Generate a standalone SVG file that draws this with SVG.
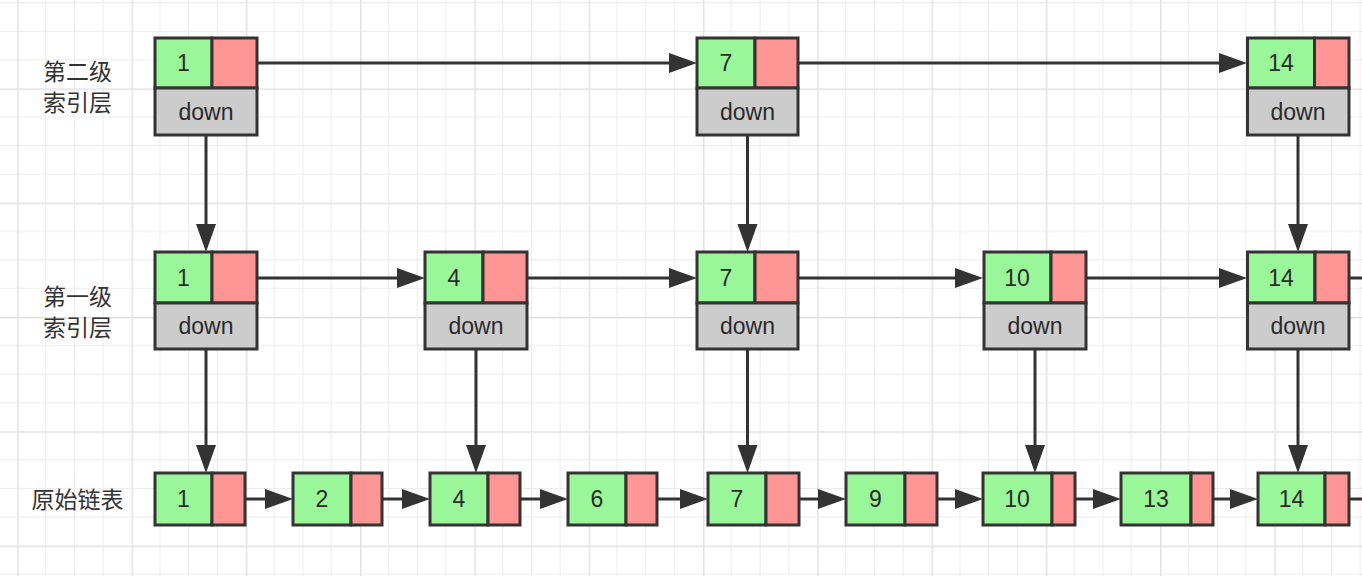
<svg xmlns="http://www.w3.org/2000/svg" width="1362" height="576" viewBox="0 0 1362 576">
<style>
.g{fill:#99f799;stroke:#333;stroke-width:3}
.r{fill:#fd9595;stroke:#333;stroke-width:3}
.d{fill:#cccccc;stroke:#333;stroke-width:3}
.t{font-family:"Liberation Sans",Arial,sans-serif;font-size:23px;fill:#2a2a2a;text-anchor:middle}
.lb{font-family:"Noto Sans CJK SC","Noto Sans",sans-serif;font-size:23px;fill:#333;text-anchor:middle}
.c line{stroke:#333;stroke-width:3}
</style>
<defs>
<pattern id="grid" patternUnits="userSpaceOnUse" x="131.5" y="202.7" width="114.2857" height="114.2857">
<rect x="28.07" y="0" width="1" height="114.2857" fill="#ebebeb"/>
<rect x="56.64" y="0" width="1" height="114.2857" fill="#ebebeb"/>
<rect x="85.21" y="0" width="1" height="114.2857" fill="#ebebeb"/>
<rect x="0" y="28.07" width="114.2857" height="1" fill="#ebebeb"/>
<rect x="0" y="56.64" width="114.2857" height="1" fill="#ebebeb"/>
<rect x="0" y="85.21" width="114.2857" height="1" fill="#ebebeb"/>
<rect x="0" y="0" width="1.5" height="114.2857" fill="#e2e2e2"/>
<rect x="0" y="0" width="114.2857" height="1.5" fill="#e2e2e2"/>
</pattern>
<marker id="ah" markerUnits="userSpaceOnUse" markerWidth="30" markerHeight="22" refX="8" refY="10" orient="auto">
<path d="M0,0 L28,10 L0,20 Z" fill="#333"/>
</marker>
</defs>
<rect x="0" y="0" width="1362" height="576" fill="#ffffff"/>
<rect x="0" y="0" width="1362" height="576" fill="url(#grid)"/>

<g id="labels">
<text class="lb" x="77.5" y="80">第二级</text>
<text class="lb" x="77.5" y="111">索引层</text>
<text class="lb" x="77.5" y="305">第一级</text>
<text class="lb" x="77.5" y="336">索引层</text>
<text class="lb" x="77.5" y="508">原始链表</text>
</g>

<g id="connectors" class="c">
<line x1="257" y1="63" x2="677" y2="63" marker-end="url(#ah)"/>
<line x1="798" y1="63" x2="1227" y2="63" marker-end="url(#ah)"/>
<line x1="257" y1="278" x2="405" y2="278" marker-end="url(#ah)"/>
<line x1="527" y1="278" x2="677" y2="278" marker-end="url(#ah)"/>
<line x1="798" y1="278" x2="963" y2="278" marker-end="url(#ah)"/>
<line x1="1086" y1="278" x2="1227" y2="278" marker-end="url(#ah)"/>
<line x1="1349" y1="278" x2="1362" y2="278"/>
<line x1="206" y1="135" x2="206" y2="232" marker-end="url(#ah)"/>
<line x1="747.5" y1="135" x2="747.5" y2="232" marker-end="url(#ah)"/>
<line x1="1298" y1="135" x2="1298" y2="232" marker-end="url(#ah)"/>
<line x1="206" y1="349" x2="206" y2="453" marker-end="url(#ah)"/>
<line x1="476" y1="349" x2="476" y2="453" marker-end="url(#ah)"/>
<line x1="747.5" y1="349" x2="747.5" y2="453" marker-end="url(#ah)"/>
<line x1="1035" y1="349" x2="1035" y2="453" marker-end="url(#ah)"/>
<line x1="1298" y1="349" x2="1298" y2="453" marker-end="url(#ah)"/>
<line x1="245" y1="499" x2="273" y2="499" marker-end="url(#ah)"/>
<line x1="382" y1="499" x2="410" y2="499" marker-end="url(#ah)"/>
<line x1="520" y1="499" x2="548" y2="499" marker-end="url(#ah)"/>
<line x1="657" y1="499" x2="688" y2="499" marker-end="url(#ah)"/>
<line x1="799" y1="499" x2="826" y2="499" marker-end="url(#ah)"/>
<line x1="937" y1="499" x2="963" y2="499" marker-end="url(#ah)"/>
<line x1="1075" y1="499" x2="1101" y2="499" marker-end="url(#ah)"/>
<line x1="1213" y1="499" x2="1238" y2="499" marker-end="url(#ah)"/>
<line x1="1349" y1="499" x2="1362" y2="499"/>
</g>

<g id="l2-n1">
<rect class="g" x="155" y="38" width="57" height="50"/><rect class="r" x="212" y="38" width="45" height="50"/>
<rect class="d" x="155" y="88" width="102" height="47"/>
<text class="t" x="183.5" y="71">1</text><text class="t" x="206" y="119.5">down</text>
</g>
<g id="l2-n7">
<rect class="g" x="697" y="38" width="58" height="50"/><rect class="r" x="755" y="38" width="43" height="50"/>
<rect class="d" x="697" y="88" width="101" height="47"/>
<text class="t" x="726" y="71">7</text><text class="t" x="747.5" y="119.5">down</text>
</g>
<g id="l2-n14">
<rect class="g" x="1247.5" y="38" width="67" height="50"/><rect class="r" x="1314.5" y="38" width="34.5" height="50"/>
<rect class="d" x="1247.5" y="88" width="101.5" height="47"/>
<text class="t" x="1281" y="71">14</text><text class="t" x="1298" y="119.5">down</text>
</g>

<g id="l1-n1">
<rect class="g" x="155" y="252" width="57" height="51"/><rect class="r" x="212" y="252" width="45" height="51"/>
<rect class="d" x="155" y="303" width="102" height="46"/>
<text class="t" x="183.5" y="286">1</text><text class="t" x="206" y="334">down</text>
</g>
<g id="l1-n4">
<rect class="g" x="425" y="252" width="58" height="51"/><rect class="r" x="483" y="252" width="44" height="51"/>
<rect class="d" x="425" y="303" width="102" height="46"/>
<text class="t" x="454" y="286">4</text><text class="t" x="476" y="334">down</text>
</g>
<g id="l1-n7">
<rect class="g" x="697" y="252" width="58" height="51"/><rect class="r" x="755" y="252" width="43" height="51"/>
<rect class="d" x="697" y="303" width="101" height="46"/>
<text class="t" x="726" y="286">7</text><text class="t" x="747.5" y="334">down</text>
</g>
<g id="l1-n10">
<rect class="g" x="984" y="252" width="67" height="51"/><rect class="r" x="1051" y="252" width="35" height="51"/>
<rect class="d" x="984" y="303" width="102" height="46"/>
<text class="t" x="1017" y="286">10</text><text class="t" x="1035" y="334">down</text>
</g>
<g id="l1-n14">
<rect class="g" x="1247.5" y="252" width="67.5" height="51"/><rect class="r" x="1315" y="252" width="34" height="51"/>
<rect class="d" x="1247.5" y="303" width="101.5" height="46"/>
<text class="t" x="1281" y="286">14</text><text class="t" x="1298" y="334">down</text>
</g>

<g id="b-n1"><rect class="g" x="155" y="473" width="57" height="52"/><rect class="r" x="212" y="473" width="33" height="52"/><text class="t" x="183.5" y="507">1</text></g>
<g id="b-n2"><rect class="g" x="293" y="473" width="58" height="52"/><rect class="r" x="351" y="473" width="31" height="52"/><text class="t" x="322" y="507">2</text></g>
<g id="b-n4"><rect class="g" x="430" y="473" width="58" height="52"/><rect class="r" x="488" y="473" width="32" height="52"/><text class="t" x="459" y="507">4</text></g>
<g id="b-n6"><rect class="g" x="568" y="473" width="58" height="52"/><rect class="r" x="626" y="473" width="31" height="52"/><text class="t" x="597" y="507">6</text></g>
<g id="b-n7"><rect class="g" x="708" y="473" width="58" height="52"/><rect class="r" x="766" y="473" width="33" height="52"/><text class="t" x="737" y="507">7</text></g>
<g id="b-n9"><rect class="g" x="846" y="473" width="59" height="52"/><rect class="r" x="905" y="473" width="32" height="52"/><text class="t" x="875.5" y="507">9</text></g>
<g id="b-n10"><rect class="g" x="983" y="473" width="69" height="52"/><rect class="r" x="1052" y="473" width="23" height="52"/><text class="t" x="1017" y="507">10</text></g>
<g id="b-n13"><rect class="g" x="1121" y="473" width="70" height="52"/><rect class="r" x="1191" y="473" width="22" height="52"/><text class="t" x="1156" y="507">13</text></g>
<g id="b-n14"><rect class="g" x="1258" y="473" width="67" height="52"/><rect class="r" x="1325" y="473" width="24" height="52"/><text class="t" x="1291.5" y="507">14</text></g>
</svg>
